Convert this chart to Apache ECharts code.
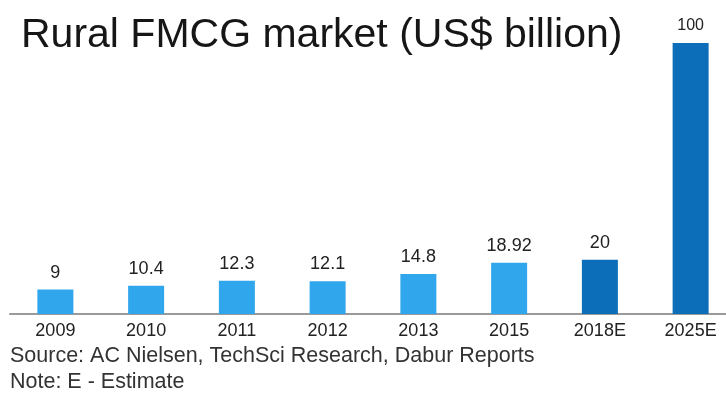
<!DOCTYPE html>
<html>
<head>
<meta charset="utf-8">
<script src="https://cdn.jsdelivr.net/npm/echarts@6/dist/echarts.min.js"></script>
<style>
  html, body { margin: 0; padding: 0; background: #ffffff; overflow: hidden; }
  /* the last band runs slightly past the right edge of the page */
  #chart { width: 736px; height: 399px; }
</style>
</head>
<body>
<div id="chart"></div>
<script>
// Rural FMCG market size by year, US$ billion (E = estimate)
const years = ['2009', '2010', '2011', '2012', '2013', '2015', '2018E', '2025E'];
const marketSize = [9, 10.4, 12.3, 12.1, 14.8, 18.92, 20, 100];
const isEstimate = [false, false, false, false, false, false, true, true];

const FONT = '"Liberation Sans", Arial, sans-serif';
const ACTUAL_COLOR = '#30a6ec';
const ESTIMATE_COLOR = '#0c6db8';

const chart = echarts.init(document.getElementById('chart'), null, { renderer: 'canvas' });

const barData = marketSize.map((v, i) => ({
  value: v,
  itemStyle: { color: isEstimate[i] ? ESTIMATE_COLOR : ACTUAL_COLOR },
  label: i === marketSize.length - 1 ? { fontSize: 16, distance: 9 } : undefined
}));

chart.setOption({
  animation: false,
  backgroundColor: '#ffffff',
  title: [
    {
      text: 'Rural FMCG market (US$ billion)',
      left: 21, top: 15, padding: 0,
      textStyle: { fontFamily: FONT, fontSize: 41, fontWeight: 'normal', color: '#161616' }
    },
    {
      text: 'Source: AC Nielsen, TechSci Research, Dabur Reports',
      left: 10, top: 345, padding: 0,
      textStyle: { fontFamily: FONT, fontSize: 21.5, fontWeight: 'normal', color: '#333333' }
    },
    {
      text: 'Note: E - Estimate',
      left: 10, top: 371, padding: 0,
      textStyle: { fontFamily: FONT, fontSize: 21.5, fontWeight: 'normal', color: '#333333' }
    }
  ],
  grid: { left: 10, top: 43, width: 726, height: 271, containLabel: false },
  xAxis: {
    type: 'category',
    data: years,
    axisLine: { lineStyle: { color: '#9a9a9a', width: 2 } },
    axisTick: { show: false },
    axisLabel: { fontFamily: FONT, fontSize: 18, color: '#222222', margin: 8 }
  },
  yAxis: {
    type: 'value',
    min: 0, max: 100,
    show: false,
    splitLine: { show: false }
  },
  series: [{
    type: 'bar',
    data: barData,
    barWidth: 36,
    label: {
      show: true,
      position: 'top',
      distance: 8,
      fontFamily: FONT,
      fontSize: 18,
      color: '#222222'
    }
  }]
});
</script>
</body>
</html>
